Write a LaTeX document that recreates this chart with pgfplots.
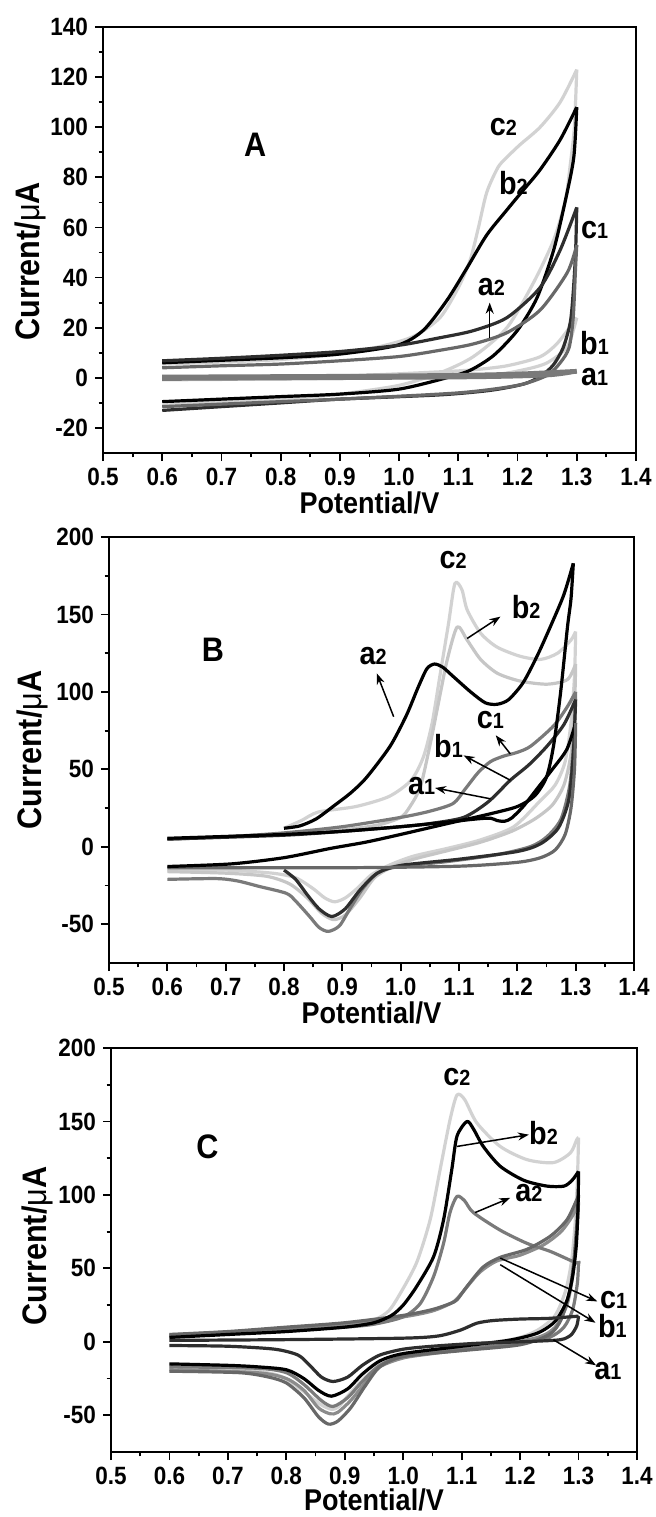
\documentclass[border=0pt]{standalone}
\usepackage{fontspec}
\setmainfont{Liberation Sans}[FakeStretch=0.9]
\usepackage{pgfplots}
\pgfplotsset{compat=1.18}
\usetikzlibrary{arrows.meta}
\definecolor{cL}{HTML}{D2D2D2}
\definecolor{cL2}{HTML}{C6C6C6}
\definecolor{cD}{HTML}{2E2E2E}
\definecolor{cM}{HTML}{686868}
\definecolor{cG}{HTML}{7A7A7A}
\definecolor{cG2}{HTML}{8C8C8C}
\newcommand{\lab}[2]{{\fontsize{16}{16}\selectfont\bfseries #1\fontsize{11}{11}\selectfont #2}}
\tikzset{arr/.style={-{Stealth[length=5.5pt,width=4pt]}, line width=0.75pt, black}}
\pgfplotsset{
  cvstyle/.style={
    scale only axis, clip=false,
    xmin=0.5, xmax=1.4,
    xtick={0.5,0.6,...,1.41}, minor x tick num=1, minor y tick num=1,
    tick align=outside, xtick pos=left, ytick pos=left,
    major tick length=4pt, minor tick length=2.2pt,
    tick style={line width=0.9pt, black},
    axis line style={line width=1pt},
    /pgf/number format/assume math mode=true,
    ticklabel style={font=\fontsize{12.5}{13}\selectfont\bfseries},
    xticklabel style={/pgf/number format/.cd, fixed, fixed zerofill, precision=1},
    yticklabel style={/pgf/number format/.cd, fixed, precision=0},
    xlabel={Potential/V}, ylabel={Current/{\mdseries μ}A},
    xlabel style={font=\fontsize{15}{16}\selectfont\bfseries, at={(axis description cs:0.5,0)}, anchor=center, yshift=-25pt},
    ylabel style={font=\fontsize{17}{18}\selectfont\bfseries},
    every axis plot/.append style={no markers, line width=1.6pt, smooth, tension=0.45, line join=round},
  },
}
\begin{document}
\begin{tikzpicture}
\path[use as bounding box] (0,0) rectangle (327.5pt,-758.5pt);
% ---------------- Panel A ----------------
\begin{axis}[cvstyle, at={(51.5pt,-13.5pt)}, anchor=north west,
  width=266.5pt, height=213pt, ymin=-30, ymax=140, ytick={-20,0,...,140},
  ylabel style={at={(axis description cs:-0.137,0.45)}, anchor=center}]
\addplot[cL] coordinates {(0.6,0.5)(0.9,0.8)(1.069,2.4)(1.125,3.2)(1.182,4.8)(1.238,8.4)(1.268,14)(1.3,24)};
\addplot[cL] coordinates {(1.3,24)(1.284,12.4)(1.25,6)(1.21,3.2)(1.154,1.2)(1.0,0)(0.6,-0.8)};
\addplot[cL] coordinates {(0.6,5.5)(0.7,6.3)(0.8,7.3)(0.9,9.5)(0.968,12.5)(1.024,16.5)(1.069,24)(1.10,36)(1.12,47)(1.134,60)(1.148,74)(1.167,84)(1.182,88)(1.204,93)(1.238,100)(1.272,110)(1.3,123)};
\addplot[cL] coordinates {(1.3,123)(1.296,100)(1.289,85)(1.281,71)(1.261,55)(1.227,38)(1.182,20)(1.125,8.4)(1.069,2)(1.0,-3)(0.9,-6.5)(0.8,-8.5)(0.7,-9.5)(0.6,-11)};
\addplot[black] coordinates {(0.6,6)(0.7,7)(0.8,8)(0.9,9.5)(0.997,13)(1.041,19)(1.081,31)(1.115,44)(1.148,57)(1.182,67)(1.21,75)(1.238,83)(1.272,95)(1.3,108)};
\addplot[black] coordinates {(1.3,108)(1.295,88)(1.281,71)(1.261,51)(1.233,32)(1.2,19)(1.16,9)(1.12,3)(1.08,0)(1.0,-4.5)(0.9,-6.5)(0.8,-7.5)(0.7,-8.5)(0.6,-9.5)};
\addplot[cD] coordinates {(0.6,6.8)(0.7,7.8)(0.8,9)(0.9,10.5)(1.0,13)(1.069,16)(1.125,18.8)(1.182,24)(1.238,36)(1.272,51)(1.3,68)};
\addplot[cD] coordinates {(1.3,68)(1.298,50)(1.294,34)(1.289,22)(1.277,12)(1.26,5)(1.238,0.5)(1.21,-2.5)(1.154,-5)(1.069,-6.8)(0.9,-8.5)(0.8,-10)(0.7,-11.5)(0.6,-13)};
\addplot[cM] coordinates {(0.6,4)(0.7,4.8)(0.8,5.5)(0.9,6.8)(1.0,8.5)(1.069,11)(1.125,13.5)(1.182,18)(1.238,27)(1.284,42)(1.3,53)};
\addplot[cM] coordinates {(1.3,53)(1.298,44)(1.294,24)(1.287,12)(1.272,6)(1.25,1)(1.2,-3)(1.1,-6)(0.9,-8.5)(0.8,-9.5)(0.7,-10.5)(0.6,-11.5)};
\addplot[cG, line width=2.4pt] coordinates {(0.6,0.3)(0.9,0.6)(1.1,1.0)(1.2,1.5)(1.3,2.6)};
\addplot[cG, line width=2pt] coordinates {(1.3,2.6)(1.25,1.0)(1.1,0.2)(0.6,-0.4)};
\node[font=\fontsize{17}{17}\selectfont\bfseries] at (axis cs:0.757,93) {A};
\node at (axis cs:1.176,100) {\lab{c}{2}};
\node at (axis cs:1.193,77.7) {\lab{b}{2}};
\node at (axis cs:1.33,59) {\lab{c}{1}};
\node at (axis cs:1.156,36.4) {\lab{a}{2}};
\node at (axis cs:1.33,13.8) {\lab{b}{1}};
\node at (axis cs:1.33,0.5) {\lab{a}{1}};
\draw[arr] (axis cs:1.153,15.8) -- (axis cs:1.153,30);
\end{axis}
% ---------------- Panel B ----------------
\begin{axis}[cvstyle, at={(54.5pt,-268.5pt)}, anchor=north west,
  width=262.5pt, height=213pt, ymin=-75, ymax=200, ytick={-50,0,...,200},
  ylabel style={at={(axis description cs:-0.146,0.5)}, anchor=center}]
\addplot[cL] coordinates {(0.8,12)(0.83,17)(0.859,22.5)(0.923,26)(0.98,32.5)(1.018,43)(1.039,58)(1.054,80)(1.068,112)(1.082,144)(1.093,170)(1.105,166)(1.114,153)(1.137,138)(1.165,129)(1.205,123)(1.24,121)(1.269,125)(1.292,133.5)(1.3,139)};
\addplot[cL] coordinates {(1.3,139)(1.298,110)(1.292,80)(1.282,55)(1.265,40)(1.24,30)(1.194,13)(1.137,4.5)(1.08,-1)(1.022,-6)(0.982,-11.6)(0.95,-18)(0.925,-27)(0.905,-33)(0.887,-35.5)(0.87,-33)(0.85,-27)(0.82,-20)(0.78,-17)(0.7,-15)(0.6,-15)};
\addplot[cL2] coordinates {(0.6,5)(0.7,6.5)(0.8,8.5)(0.9,11)(0.96,14)(1.0,19)(1.016,26)(1.034,39)(1.051,67)(1.068,99)(1.08,121)(1.097,142)(1.114,133.5)(1.137,121)(1.166,112)(1.205,107)(1.251,105)(1.286,108)(1.3,118)};
\addplot[cL2] coordinates {(1.3,118)(1.298,90)(1.292,60)(1.28,40)(1.26,27)(1.23,18)(1.19,10)(1.137,3)(1.08,-2.5)(1.022,-8)(0.985,-13)(0.955,-20)(0.93,-33)(0.905,-44)(0.885,-47)(0.865,-43)(0.84,-33)(0.81,-24)(0.77,-19)(0.7,-17)(0.6,-16)};
\addplot[cG] coordinates {(0.6,5)(0.7,6.5)(0.8,9)(0.9,13)(1.0,19)(1.05,23)(1.09,28)(1.11,37)(1.133,48)(1.154,55)(1.176,58.5)(1.2,61)(1.223,65)(1.262,78)(1.285,90)(1.3,100)};
\addplot[cG] coordinates {(1.3,100)(1.297,70)(1.29,40)(1.275,18)(1.251,6.6)(1.223,0.2)(1.166,-5)(1.08,-9.5)(0.993,-13)(0.96,-17)(0.935,-27)(0.913,-40)(0.895,-51)(0.876,-54.6)(0.86,-52)(0.844,-45)(0.82,-35)(0.804,-30)(0.758,-25.6)(0.72,-22)(0.684,-20.5)(0.6,-21)};
\addplot[cD] coordinates {(0.6,5)(0.8,7.5)(0.9,10)(1.0,13)(1.05,15)(1.108,19)(1.15,29)(1.188,43)(1.22,53)(1.251,65)(1.28,79)(1.3,95)};
\addplot[cD] coordinates {(1.3,95)(1.296,60)(1.288,30)(1.27,12)(1.24,2)(1.2,-3)(1.1,-8)(1.0,-12)(0.96,-17)(0.93,-28)(0.905,-40)(0.882,-45)(0.86,-40)(0.84,-31)(0.82,-21)(0.8,-15)};
\addplot[black] coordinates {(0.6,5.5)(0.8,8)(0.9,10)(1.0,13)(1.08,16)(1.13,18)(1.154,18.5)(1.165,17)(1.178,16.5)(1.19,18.5)(1.21,26)(1.235,38)(1.26,50)(1.285,63)(1.3,80)};
\addplot[cM] coordinates {(1.3,80)(1.298,50)(1.292,25)(1.282,8)(1.265,-2)(1.24,-7)(1.2,-10)(1.1,-12.5)(0.9,-13.5)(0.6,-13.5)};
\addplot[black] coordinates {(0.8,12)(0.827,13.5)(0.855,18)(0.884,26)(0.915,35)(0.942,45)(0.982,65)(1.01,85)(1.03,103)(1.045,115)(1.058,118)(1.072,116)(1.09,110)(1.12,100)(1.145,93)(1.165,92)(1.185,95)(1.21,106)(1.235,124)(1.26,145)(1.28,163)(1.296,183)};
\addplot[black] coordinates {(1.296,183)(1.292,160)(1.286,142)(1.274,99)(1.262,65)(1.25,45)(1.23,33)(1.2,26)(1.15,21)(1.08,15)(1.0,8)(0.94,3)(0.88,-1)(0.8,-7)(0.71,-11)(0.6,-12.7)};
\node[font=\fontsize{17}{17}\selectfont\bfseries] at (axis cs:0.678,127) {B};
\node at (axis cs:1.09,185) {\lab{c}{2}};
\node at (axis cs:1.215,155) {\lab{b}{2}};
\node at (axis cs:0.953,123) {\lab{a}{2}};
\node at (axis cs:1.154,82) {\lab{c}{1}};
\node at (axis cs:1.082,65) {\lab{b}{1}};
\node at (axis cs:1.036,39) {\lab{a}{1}};
\draw[arr] (axis cs:1.114,134.5) -- (axis cs:1.171,148.6);
\draw[arr] (axis cs:0.988,84) -- (axis cs:0.959,112);
\draw[arr] (axis cs:1.188,60) -- (axis cs:1.163,72);
\draw[arr] (axis cs:1.188,43) -- (axis cs:1.108,59);
\draw[arr] (axis cs:1.154,31) -- (axis cs:1.059,38);
\end{axis}
% ---------------- Panel C ----------------
\begin{axis}[cvstyle, at={(55.5pt,-524pt)}, anchor=north west,
  width=263pt, height=202pt, ymin=-75, ymax=200, ytick={-50,0,...,200},
  xlabel style={yshift=1pt, inner sep=0pt},
  ylabel style={at={(axis description cs:-0.14,0.51)}, anchor=center}]
\addplot[cL] coordinates {(0.6,5)(0.7,6.5)(0.8,8.5)(0.9,11)(0.95,15)(0.975,21)(0.995,33)(1.023,54)(1.046,83)(1.063,117)(1.08,151)(1.092,168)(1.105,165)(1.126,149)(1.166,133)(1.212,124)(1.257,122)(1.286,128.6)(1.297,137.7)(1.3,139)};
\addplot[cL] coordinates {(1.3,139)(1.298,110)(1.294,80)(1.288,55)(1.278,35)(1.26,18)(1.23,8)(1.19,2)(1.1,-3)(1.012,-8.9)(0.975,-13)(0.955,-17)(0.93,-26)(0.909,-35)(0.89,-44)(0.878,-46)(0.86,-43)(0.84,-37)(0.81,-28)(0.784,-22.5)(0.727,-19)(0.6,-17)};
\addplot[cG2] coordinates {(0.6,4.5)(0.8,9)(0.9,12)(1.0,17)(1.05,21)(1.085,27)(1.1,33)(1.13,47)(1.16,55)(1.2,59)(1.24,66)(1.27,75)(1.29,86)(1.3,95)};
\addplot[cG2] coordinates {(1.3,95)(1.297,75)(1.29,45)(1.28,25)(1.26,10)(1.23,3)(1.15,-3)(1.05,-8)(1.0,-11)(0.96,-17)(0.935,-28)(0.91,-40)(0.888,-48)(0.875,-49)(0.855,-45)(0.83,-33)(0.8,-25)(0.75,-21)(0.6,-19)};
\addplot[cG] coordinates {(0.6,4)(0.7,6)(0.8,8)(0.9,10)(0.95,12)(1.0,17)(1.029,26)(1.052,44.5)(1.069,67)(1.08,88)(1.092,99)(1.105,96)(1.12,88)(1.166,76)(1.212,67)(1.252,61.5)(1.297,53.6)(1.3,55)};
\addplot[cG] coordinates {(1.3,55)(1.298,40)(1.29,22)(1.275,10)(1.25,3)(1.2,-1)(1.1,-5)(1.0,-10)(0.96,-16)(0.93,-27)(0.905,-38)(0.88,-44)(0.86,-40)(0.83,-29)(0.8,-21)(0.75,-18)(0.6,-17)};
\addplot[cM] coordinates {(0.6,5)(0.7,7)(0.8,10)(0.9,13)(1.0,18)(1.05,22)(1.08,26)(1.092,28.6)(1.109,37.7)(1.137,51)(1.166,57.5)(1.212,63)(1.252,72)(1.28,83)(1.297,96.8)(1.3,100)};
\addplot[cM] coordinates {(1.3,100)(1.297,80)(1.292,55)(1.285,35)(1.27,15)(1.25,5)(1.2,-2)(1.1,-6)(1.0,-10)(0.96,-17)(0.935,-30)(0.91,-45)(0.888,-54)(0.872,-56)(0.855,-51)(0.83,-38)(0.8,-28)(0.77,-24)(0.72,-21)(0.6,-20)};
\addplot[black] coordinates {(0.6,3)(0.7,5)(0.8,7)(0.9,10)(0.95,13)(0.98,18)(1.0,25)(1.023,37.7)(1.052,58)(1.069,83)(1.083,117)(1.092,140)(1.109,150)(1.12,145)(1.137,133)(1.166,119.5)(1.206,110)(1.246,106)(1.275,106)(1.289,110)(1.3,116)};
\addplot[black] coordinates {(1.3,116)(1.299,90)(1.296,65)(1.29,45)(1.28,28)(1.26,14)(1.23,6)(1.18,1)(1.1,-3)(1.0,-8)(0.96,-13)(0.93,-22)(0.905,-32)(0.877,-37)(0.855,-33)(0.83,-25)(0.8,-19)(0.75,-17)(0.7,-16)(0.6,-15)};
\addplot[cD] coordinates {(0.6,1)(0.8,1.5)(1.0,2.5)(1.06,4)(1.098,8)(1.126,12.7)(1.154,14.5)(1.2,15.5)(1.25,16)(1.3,17.5)};
\addplot[cD] coordinates {(1.3,17.5)(1.297,11)(1.288,5)(1.275,2)(1.257,1)(1.2,0)(1.126,-1)(1.05,-3)(1.0,-5)(0.96,-9)(0.93,-16)(0.905,-24)(0.88,-27)(0.86,-24)(0.84,-16)(0.82,-9)(0.78,-5)(0.7,-3)(0.6,-2.5)};
\node[font=\fontsize{17}{17}\selectfont\bfseries] at (axis cs:0.665,133) {C};
\node at (axis cs:1.092,180) {\lab{c}{2}};
\node at (axis cs:1.24,142) {\lab{b}{2}};
\node at (axis cs:1.215,101) {\lab{a}{2}};
\node at (axis cs:1.36,28.6) {\lab{c}{1}};
\node at (axis cs:1.358,10.4) {\lab{b}{1}};
\node at (axis cs:1.35,-20) {\lab{a}{1}};
\draw[arr] (axis cs:1.092,133) -- (axis cs:1.215,141);
\draw[arr] (axis cs:1.123,88) -- (axis cs:1.183,98);
\draw[arr] (axis cs:1.166,57) -- (axis cs:1.332,27.5);
\draw[arr] (axis cs:1.166,52.5) -- (axis cs:1.329,13);
\draw[arr] (axis cs:1.257,1.4) -- (axis cs:1.33,-16);
\end{axis}
\end{tikzpicture}
\end{document}
